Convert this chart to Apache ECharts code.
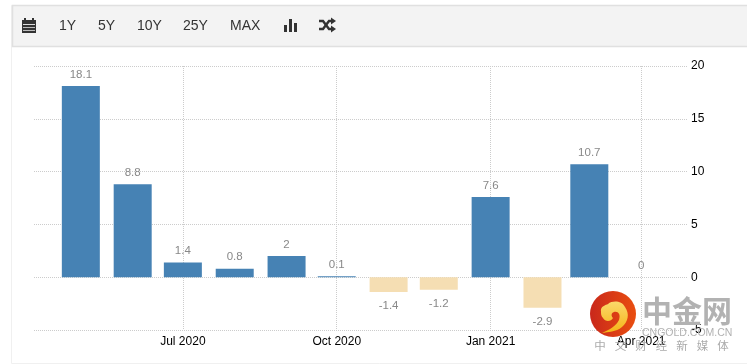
<!DOCTYPE html>
<html>
<head>
<meta charset="utf-8">
<style>
html,body{margin:0;padding:0;background:#fff;}
#main{width:747px;height:364px;}
</style>
<script src="https://cdn.jsdelivr.net/npm/echarts@6/dist/echarts.min.js"></script>
</head>
<body>
<div id="main"></div>
<script>
var months = ['2020-05-01','2020-06-01','2020-07-01','2020-08-01','2020-09-01','2020-10-01','2020-11-01','2020-12-01','2021-01-01','2021-02-01','2021-03-01','2021-04-01'];
var values = [18.1,8.8,1.4,0.8,2,0.1,-1.4,-1.2,7.6,-2.9,10.7,0];
var tickDates = ['2020-07-01','2020-10-01','2021-01-01','2021-04-01'];
var tickLabels = ['Jul 2020','Oct 2020','Jan 2021','Apr 2021'];
var rangeButtons = ['1Y','5Y','10Y','25Y','MAX'];
var buttonX = [59,98,137,183,230];
var sloganChars = ['中','文','财','经','新','媒','体'];

var font = '"Liberation Sans", Arial, sans-serif';
var cjk = '"Noto Sans CJK SC", sans-serif';

function ts(s) {
    var p = s.split('-');
    return new Date(+p[0], +p[1] - 1, +p[2]).getTime();
}

var barData = [];
for (var i = 0; i < months.length; i++) {
    barData.push({
        value: [ts(months[i]), values[i]],
        itemStyle: {color: values[i] < 0 ? '#F5DEB3' : '#4682B4'},
        label: {position: values[i] < 0 ? 'bottom' : 'top', distance: values[i] < 0 ? 8 : 5.5}
    });
}

var tickValues = [];
for (var j = 0; j < tickDates.length; j++) {
    tickValues.push(ts(tickDates[j]));
}

echarts.graphic.registerShape('swirl', echarts.graphic.extendPath('M601 312 C600 306 606 305 608 304 C613 300 622 301 625 307 C630 314 628 322 622 327 C616 332 608 332 602 333 C609 330 616 326 619 320 C621 314 618 311 614 312 C611 313 611 316 613 318 C611 322 605 322 603 318 C601 316 601 314 601 312 Z', {}));

// toolbar and watermark
var graphics = [
    {type:'rect',z:1,silent:true,shape:{x:11.5,y:5.5,width:740,height:358},style:{fill:'none',stroke:'#f0f0f0',lineWidth:1}},
    {type:'rect',z:2,silent:true,shape:{x:12.5,y:5.5,width:740,height:41},style:{fill:'#f3f3f3',stroke:'#e0e0e0',lineWidth:1.5}},
    // calendar icon
    {type:'rect',z:3,silent:true,shape:{x:22,y:20,width:14,height:13},style:{fill:'#333'}},
    {type:'rect',z:3,silent:true,shape:{x:24,y:18,width:2,height:3},style:{fill:'#333'}},
    {type:'rect',z:3,silent:true,shape:{x:32,y:18,width:2,height:3},style:{fill:'#333'}},
    {type:'rect',z:3,silent:true,shape:{x:23,y:24,width:12,height:1},style:{fill:'#ddd'}},
    {type:'rect',z:3,silent:true,shape:{x:23,y:27,width:12,height:1},style:{fill:'#bbb'}},
    {type:'rect',z:3,silent:true,shape:{x:23,y:30,width:12,height:1},style:{fill:'#bbb'}},
    // bar icon
    {type:'rect',z:3,silent:true,shape:{x:284,y:25,width:3,height:7},style:{fill:'#333'}},
    {type:'rect',z:3,silent:true,shape:{x:289,y:19,width:3,height:13},style:{fill:'#333'}},
    {type:'rect',z:3,silent:true,shape:{x:294,y:23,width:3,height:9},style:{fill:'#333'}},
    // shuffle icon
    {type:'polyline',z:3,silent:true,shape:{points:[[319,21],[323,21],[329,29],[332,29]]},style:{fill:'none',stroke:'#333',lineWidth:2.4}},
    {type:'polyline',z:3,silent:true,shape:{points:[[319,29],[323,29],[329,21],[332,21]]},style:{fill:'none',stroke:'#333',lineWidth:2.4}},
    {type:'polygon',z:3,silent:true,shape:{points:[[331,17.5],[336,21],[331,24.5]]},style:{fill:'#333'}},
    {type:'polygon',z:3,silent:true,shape:{points:[[331,25.5],[336,29],[331,32.5]]},style:{fill:'#333'}},
    // watermark
    {type:'circle',z:20,silent:true,shape:{cx:613,cy:314,r:23},style:{fill:new echarts.graphic.LinearGradient(0,0.5,1,0.5,[{offset:0,color:'#c9281b'},{offset:1,color:'#e94e10'}])}},
    {type:'swirl',z:21,silent:true,style:{fill:new echarts.graphic.LinearGradient(0,0,0,1,[{offset:0,color:'#fbd86a'},{offset:1,color:'#f5b417'}])}},
    {type:'text',z:20,silent:true,style:{x:642,y:311,text:'中金网',font:'bold 30px ' + cjk,fill:'#b2b2b2',verticalAlign:'middle'}},
    {type:'text',z:20,silent:true,style:{x:642,y:333,text:'CNGOLD.COM.CN',font:'10.5px ' + font,fill:'#b2b2b2',verticalAlign:'middle'}}
];
for (var b = 0; b < rangeButtons.length; b++) {
    graphics.push({type:'text',z:3,silent:true,style:{x:buttonX[b],y:26,text:rangeButtons[b],font:'14px ' + font,fill:'#333',verticalAlign:'middle'}});
}
for (var c = 0; c < sloganChars.length; c++) {
    graphics.push({type:'text',z:20,silent:true,style:{x:600 + c * 20.5,y:346,text:sloganChars[c],font:'11.5px ' + cjk,fill:'#aaa',align:'center',verticalAlign:'middle'}});
}

var chart = echarts.init(document.getElementById('main'), null, {renderer:'canvas'});
chart.setOption({
    animation: false,
    backgroundColor: '#fff',
    graphic: graphics,
    grid: {left:34, right:59, top:66, bottom:34, containLabel:false},
    xAxis: {
        type: 'value',
        min: ts('2020-04-03'),
        max: ts('2021-04-29'),
        axisLine: {show:false},
        axisTick: {show:false, customValues:tickValues},
        axisLabel: {
            customValues: tickValues,
            margin: 6,
            color: '#000',
            fontFamily: font,
            fontSize: 12,
            hideOverlap: false,
            formatter: function (v) {
                return tickLabels[tickValues.indexOf(v)] || '';
            }
        },
        splitLine: {show:true, lineStyle:{color:'#ccc', type:'dotted', width:1}}
    },
    yAxis: {
        type: 'value',
        position: 'right',
        min: -5,
        max: 20,
        interval: 5,
        axisLine: {show:false},
        axisTick: {show:false},
        axisLabel: {margin:3, padding:[2,0,0,0], color:'#000', fontFamily:font, fontSize:12},
        splitLine: {show:true, lineStyle:{color:'#ccc', type:'dotted', width:1}}
    },
    series: [{
        type: 'bar',
        barWidth: 38,
        data: barData,
        label: {
            show: true,
            color: '#888',
            fontFamily: font,
            fontSize: 11.5,
            formatter: function (p) { return String(p.value[1]); }
        }
    }]
});
</script>
</body>
</html>
